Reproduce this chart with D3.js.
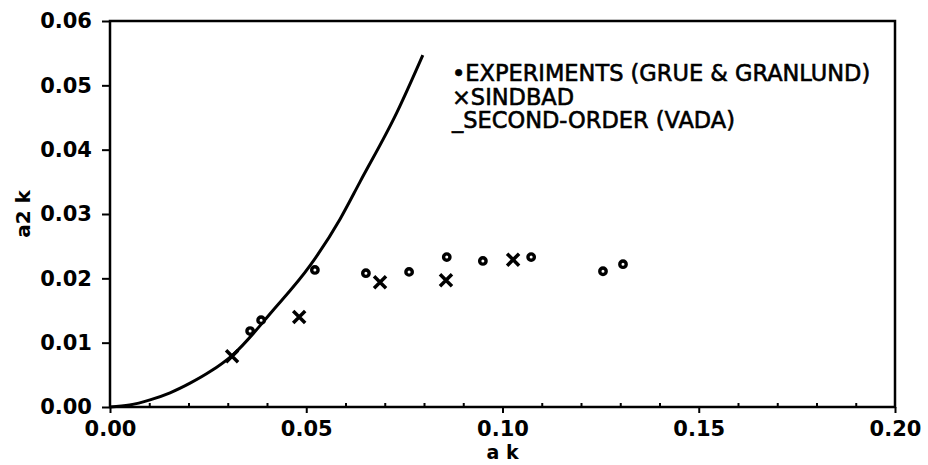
<!DOCTYPE html>
<html>
<head>
<meta charset="utf-8">
<script src="https://cdn.jsdelivr.net/npm/d3@7"></script>
<style>
  body { margin: 0; background: #fff; }
  text { font-family: "DejaVu Sans", sans-serif; fill: #000; }
</style>
</head>
<body>
<svg id="chart"></svg>
<script>

// experiments (Grue & Granlund)
const expAk  = [0.0357, 0.0385, 0.0522, 0.0652, 0.0762, 0.0858, 0.0950, 0.1073, 0.1256, 0.1307];
const expA2k = [0.0118, 0.0135, 0.0213, 0.0208, 0.0210, 0.0233, 0.0227, 0.0233, 0.0211, 0.0222];

// SINDBAD
const sinAk  = [0.0311, 0.0482, 0.0688, 0.0856, 0.1027];
const sinA2k = [0.0079, 0.0140, 0.0194, 0.0197, 0.0229];

// second-order (VADA)
const vadaAk  = [0, 0.005, 0.0102, 0.0153, 0.0204, 0.0255, 0.0311, 0.0415, 0.051, 0.0586, 0.0637, 0.0731, 0.0797];
const vadaA2k = [0, 0.0003, 0.0011, 0.0022, 0.0037, 0.0055, 0.0080, 0.0150, 0.0220, 0.0292, 0.0350, 0.0458, 0.0547];

const xTicks = [0, 0.05, 0.10, 0.15, 0.20];
const xMinor = [0.01, 0.02, 0.03, 0.04, 0.06, 0.07, 0.08, 0.09, 0.11, 0.12, 0.13, 0.14, 0.16, 0.17, 0.18, 0.19];
const yTicks = [0, 0.01, 0.02, 0.03, 0.04, 0.05, 0.06];

const legendLines = ["\u2022EXPERIMENTS (GRUE & GRANLUND)", "\u00d7SINDBAD", "_SECOND-ORDER (VADA)"];

const width = 928, height = 465;
const margin = {top: 21, right: 33, bottom: 58, left: 110};

const svg = d3.select('#chart')
    .attr('width', width)
    .attr('height', height)
    .attr('viewBox', `0 0 ${width} ${height}`);

const x = d3.scaleLinear()
  .domain([0, 0.2])
  .range([margin.left, width - margin.right]);

const y = d3.scaleLinear()
  .domain([0, 0.06])
  .range([height - margin.bottom, margin.top]);

const fmt = d3.format('.2f');

// frame
svg.append('rect')
  .attr('x', x(0))
  .attr('y', y(0.06))
  .attr('width', x(0.2) - x(0))
  .attr('height', y(0) - y(0.06))
  .attr('fill', 'none')
  .attr('stroke', '#000')
  .attr('stroke-width', 2.5);

svg.append('g')
  .attr('transform', `translate(0, ${y(0)})`)
  .call(d3.axisBottom(x).tickValues(xTicks).tickFormat(fmt).tickSize(6).tickPadding(8));

svg.append('g')
  .attr('transform', `translate(0, ${y(0)})`)
  .call(d3.axisBottom(x).tickValues(xMinor).tickFormat('').tickSize(-4));

svg.append('g')
  .attr('transform', `translate(${x(0)}, 0)`)
  .call(d3.axisLeft(y).tickValues(yTicks).tickFormat(fmt).tickSize(8).tickPadding(10));

svg.selectAll('.domain').remove();
svg.selectAll('.tick line').attr('stroke', '#000').attr('stroke-width', 2);
svg.selectAll('.tick text')
  .attr('font-size', 21)
  .attr('font-weight', 'bold')
  .attr('font-family', '"DejaVu Sans", sans-serif');

// axis titles
svg.append('text')
  .attr('x', (x(0) + x(0.2)) / 2)
  .attr('y', 459)
  .attr('text-anchor', 'middle')
  .attr('font-size', 19)
  .attr('font-weight', 'bold')
  .text('a k');

svg.append('text')
  .attr('transform', `translate(30, ${(y(0) + y(0.06)) / 2}) rotate(-90)`)
  .attr('text-anchor', 'middle')
  .attr('font-size', 20)
  .attr('font-weight', 'bold')
  .text('a2 k');

// second-order curve
const line = d3.line()
  .x((d, i) => x(vadaAk[i]))
  .y(d => y(d))
  .curve(d3.curveMonotoneX);

svg.append('path')
  .datum(vadaA2k)
  .attr('d', line)
  .attr('fill', 'none')
  .attr('stroke', '#000')
  .attr('stroke-width', 3);

// experiments
svg.selectAll('.exp')
  .data(expA2k)
  .enter()
  .append('circle')
  .attr('class', 'exp')
  .attr('cx', (d, i) => x(expAk[i]))
  .attr('cy', d => y(d))
  .attr('r', 3.2)
  .attr('fill', '#fff')
  .attr('stroke', '#000')
  .attr('stroke-width', 3.4);

// sindbad crosses
const s = 6;
svg.selectAll('.sin')
  .data(sinA2k)
  .enter()
  .append('path')
  .attr('class', 'sin')
  .attr('transform', (d, i) => `translate(${x(sinAk[i])}, ${y(d)})`)
  .attr('d', `M${-s},${-s}L${s},${s}M${-s},${s}L${s},${-s}`)
  .attr('stroke', '#000')
  .attr('stroke-width', 3.5);

// legend
svg.append('g')
  .selectAll('text')
  .data(legendLines)
  .enter()
  .append('text')
  .attr('x', 452)
  .attr('y', (d, i) => 81 + i * 23.5)
  .attr('font-size', 22.5)
  .attr('stroke', '#000')
  .attr('stroke-width', 0.6)
  .text(d => d);

</script>
</body>
</html>
